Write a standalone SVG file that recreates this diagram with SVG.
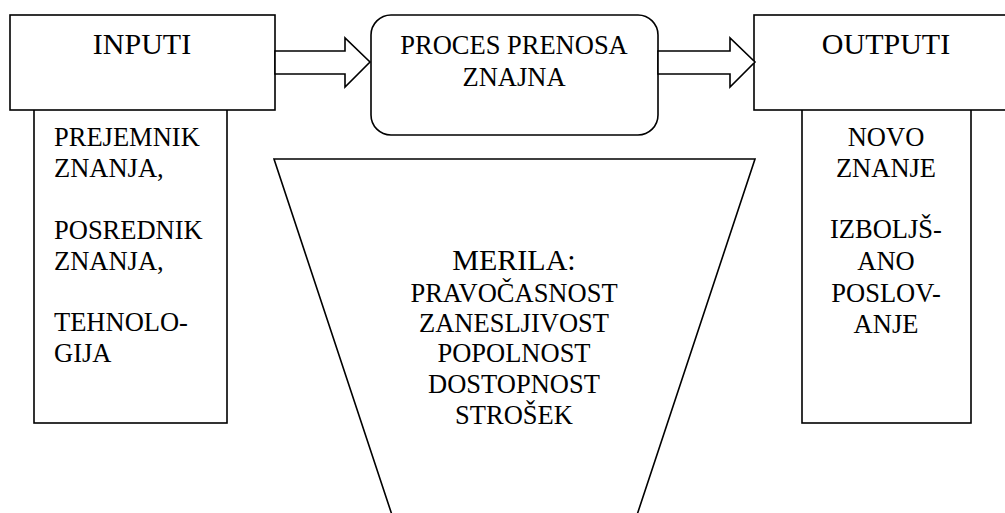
<svg xmlns="http://www.w3.org/2000/svg" width="1005" height="513" viewBox="0 0 1005 513">
<style>
.shape{fill:#fff;stroke:#000;stroke-width:1.6}
text{font-family:'Liberation Serif','DejaVu Serif',serif;fill:#000}
.h{font-size:30px}
.b{font-size:26.5px}
.m{text-anchor:middle}
</style>
<rect width="1005" height="513" fill="#fff"/>
<g font-family="Liberation Serif, DejaVu Serif, serif">
<g id="inputi-detail">
<rect class="shape" x="34" y="105" width="193" height="318"/>
<text class="b" x="54" y="146">PREJEMNIK</text>
<text class="b" x="54" y="177">ZNANJA,</text>
<text class="b" x="54" y="239">POSREDNIK</text>
<text class="b" x="54" y="270">ZNANJA,</text>
<text class="b" x="54" y="331">TEHNOLO-</text>
<text class="b" x="54" y="362">GIJA</text>
</g>
<g id="outputi-detail">
<rect class="shape" x="802" y="105" width="169" height="318"/>
<text class="b m" x="886" y="146">NOVO</text>
<text class="b m" x="886" y="177">ZNANJE</text>
<text class="b m" x="886" y="238">IZBOLJŠ-</text>
<text class="b m" x="886" y="270">ANO</text>
<text class="b m" x="886" y="302">POSLOV-</text>
<text class="b m" x="886" y="333">ANJE</text>
</g>
<g id="inputi">
<rect class="shape" x="10" y="15" width="265" height="95"/>
<text class="h m" x="142" y="54">INPUTI</text>
</g>
<g id="proces">
<rect class="shape" x="371" y="15" width="287" height="120" rx="20" ry="20"/>
<text class="b m" x="514" y="54">PROCES PRENOSA</text>
<text class="b m" x="514" y="86">ZNAJNA</text>
</g>
<g id="outputi">
<rect class="shape" x="754" y="15" width="260" height="95"/>
<text class="h m" x="886" y="54">OUTPUTI</text>
</g>
<g id="merila">
<polygon class="shape" points="274,159 755,159 637,515 392,515"/>
<text class="h m" x="514" y="270">MERILA:</text>
<text class="b m" x="514" y="302">PRAVOČASNOST</text>
<text class="b m" x="514" y="332">ZANESLJIVOST</text>
<text class="b m" x="514" y="362">POPOLNOST</text>
<text class="b m" x="514" y="393">DOSTOPNOST</text>
<text class="b m" x="514" y="424">STROŠEK</text>
</g>
<g id="connectors">
<polygon class="shape" points="275,51 345,51 345,38 370,62 345,87 345,74 275,74"/>
<polygon class="shape" points="658,51 730,51 730,38 755,62 730,87 730,74 658,74"/>
</g>
</g>
</svg>
